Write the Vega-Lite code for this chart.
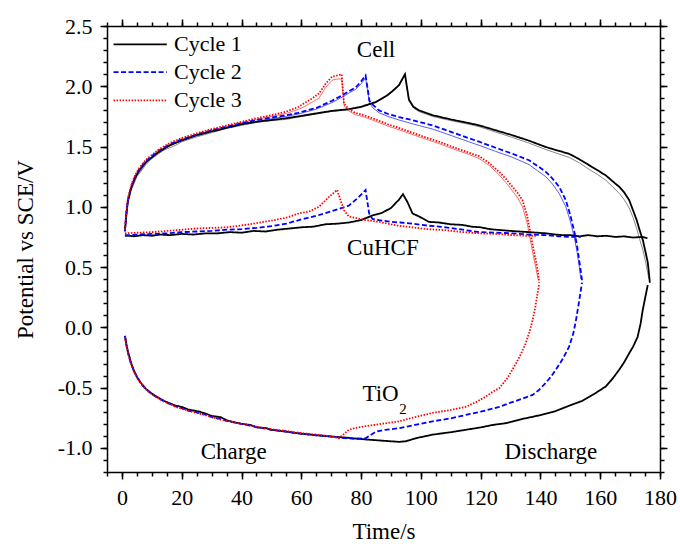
{
  "$schema": "https://vega.github.io/schema/vega-lite/v6.json",
  "width": 553,
  "height": 446,
  "autosize": {"type": "none"},
  "padding": {"left": 107, "top": 26, "right": 20, "bottom": 72},
  "background": "white",
  "config": {
    "view": {"stroke": null},
    "axis": {
      "domainColor": "#000", "domainWidth": 1.5, "tickColor": "#000", "tickWidth": 1.5,
      "labelFont": "Times New Roman", "labelFontSize": 22, "labelColor": "#000",
      "titleFont": "Times New Roman", "titleFontSize": 23, "titleFontWeight": "normal", "titleColor": "#000",
      "grid": false, "labelPadding": 8, "labelFlush": false, "labelOverlap": false
    }
  },
  "datasets": {
    "main": [
      {"c":"Cycle 1","s":"cell","t":1,"v":0.80},{"c":"Cycle 1","s":"cell","t":1.5,"v":0.95},{"c":"Cycle 1","s":"cell","t":2,"v":1.05},{"c":"Cycle 1","s":"cell","t":3,"v":1.15},{"c":"Cycle 1","s":"cell","t":4,"v":1.22},{"c":"Cycle 1","s":"cell","t":5,"v":1.27},{"c":"Cycle 1","s":"cell","t":6,"v":1.31},{"c":"Cycle 1","s":"cell","t":7,"v":1.34},{"c":"Cycle 1","s":"cell","t":8,"v":1.37},{"c":"Cycle 1","s":"cell","t":10,"v":1.41},{"c":"Cycle 1","s":"cell","t":12,"v":1.45},{"c":"Cycle 1","s":"cell","t":14,"v":1.48},{"c":"Cycle 1","s":"cell","t":16,"v":1.51},{"c":"Cycle 1","s":"cell","t":18,"v":1.53},{"c":"Cycle 1","s":"cell","t":20,"v":1.55},{"c":"Cycle 1","s":"cell","t":25,"v":1.595},{"c":"Cycle 1","s":"cell","t":30,"v":1.625},{"c":"Cycle 1","s":"cell","t":35,"v":1.655},{"c":"Cycle 1","s":"cell","t":40,"v":1.685},{"c":"Cycle 1","s":"cell","t":45,"v":1.705},{"c":"Cycle 1","s":"cell","t":50,"v":1.72},{"c":"Cycle 1","s":"cell","t":55,"v":1.735},{"c":"Cycle 1","s":"cell","t":59,"v":1.75},{"c":"Cycle 1","s":"cell","t":65,"v":1.775},{"c":"Cycle 1","s":"cell","t":70,"v":1.795},{"c":"Cycle 1","s":"cell","t":75.9,"v":1.81},{"c":"Cycle 1","s":"cell","t":80,"v":1.83},{"c":"Cycle 1","s":"cell","t":85,"v":1.87},{"c":"Cycle 1","s":"cell","t":87.1,"v":1.90},{"c":"Cycle 1","s":"cell","t":89,"v":1.93},{"c":"Cycle 1","s":"cell","t":90.5,"v":1.96},{"c":"Cycle 1","s":"cell","t":92.7,"v":2.01},{"c":"Cycle 1","s":"cell","t":94,"v":2.07},{"c":"Cycle 1","s":"cell","t":94.7,"v":2.10},{"c":"Cycle 1","s":"cell","t":95.3,"v":2.00},{"c":"Cycle 1","s":"cell","t":96,"v":1.89},{"c":"Cycle 1","s":"cell","t":97.5,"v":1.83},{"c":"Cycle 1","s":"cell","t":99.4,"v":1.80},{"c":"Cycle 1","s":"cell","t":103.9,"v":1.76},{"c":"Cycle 1","s":"cell","t":110,"v":1.725},{"c":"Cycle 1","s":"cell","t":115,"v":1.70},{"c":"Cycle 1","s":"cell","t":119.5,"v":1.676},{"c":"Cycle 1","s":"cell","t":125,"v":1.635},{"c":"Cycle 1","s":"cell","t":130.7,"v":1.593},{"c":"Cycle 1","s":"cell","t":136,"v":1.55},{"c":"Cycle 1","s":"cell","t":141.8,"v":1.496},{"c":"Cycle 1","s":"cell","t":146,"v":1.465},{"c":"Cycle 1","s":"cell","t":149.6,"v":1.44},{"c":"Cycle 1","s":"cell","t":153,"v":1.395},{"c":"Cycle 1","s":"cell","t":156.3,"v":1.345},{"c":"Cycle 1","s":"cell","t":159,"v":1.305},{"c":"Cycle 1","s":"cell","t":161.9,"v":1.26},{"c":"Cycle 1","s":"cell","t":164,"v":1.215},{"c":"Cycle 1","s":"cell","t":166.4,"v":1.165},{"c":"Cycle 1","s":"cell","t":168,"v":1.12},{"c":"Cycle 1","s":"cell","t":169.7,"v":1.055},{"c":"Cycle 1","s":"cell","t":171,"v":0.97},{"c":"Cycle 1","s":"cell","t":172.2,"v":0.89},{"c":"Cycle 1","s":"cell","t":173.2,"v":0.806},{"c":"Cycle 1","s":"cell","t":174.3,"v":0.72},{"c":"Cycle 1","s":"cell","t":175.2,"v":0.62},{"c":"Cycle 1","s":"cell","t":175.9,"v":0.54},{"c":"Cycle 1","s":"cell","t":176.3,"v":0.45},{"c":"Cycle 1","s":"cell","t":176.6,"v":0.37},

      {"c":"Cycle 2","s":"cell","t":1,"v":0.80},{"c":"Cycle 2","s":"cell","t":1.5,"v":0.96},{"c":"Cycle 2","s":"cell","t":2,"v":1.06},{"c":"Cycle 2","s":"cell","t":3,"v":1.16},{"c":"Cycle 2","s":"cell","t":4,"v":1.23},{"c":"Cycle 2","s":"cell","t":5,"v":1.28},{"c":"Cycle 2","s":"cell","t":6,"v":1.32},{"c":"Cycle 2","s":"cell","t":7,"v":1.35},{"c":"Cycle 2","s":"cell","t":8,"v":1.38},{"c":"Cycle 2","s":"cell","t":10,"v":1.42},{"c":"Cycle 2","s":"cell","t":12,"v":1.46},{"c":"Cycle 2","s":"cell","t":14,"v":1.49},{"c":"Cycle 2","s":"cell","t":16,"v":1.52},{"c":"Cycle 2","s":"cell","t":18,"v":1.54},{"c":"Cycle 2","s":"cell","t":20,"v":1.56},{"c":"Cycle 2","s":"cell","t":25,"v":1.60},{"c":"Cycle 2","s":"cell","t":30,"v":1.635},{"c":"Cycle 2","s":"cell","t":35,"v":1.665},{"c":"Cycle 2","s":"cell","t":40,"v":1.695},{"c":"Cycle 2","s":"cell","t":45,"v":1.72},{"c":"Cycle 2","s":"cell","t":50,"v":1.74},{"c":"Cycle 2","s":"cell","t":55,"v":1.76},{"c":"Cycle 2","s":"cell","t":59,"v":1.78},{"c":"Cycle 2","s":"cell","t":65,"v":1.82},{"c":"Cycle 2","s":"cell","t":70.3,"v":1.88},{"c":"Cycle 2","s":"cell","t":73.7,"v":1.925},{"c":"Cycle 2","s":"cell","t":76,"v":1.96},{"c":"Cycle 2","s":"cell","t":78.2,"v":1.99},{"c":"Cycle 2","s":"cell","t":80,"v":2.04},{"c":"Cycle 2","s":"cell","t":81.5,"v":2.09},{"c":"Cycle 2","s":"cell","t":82.2,"v":1.98},{"c":"Cycle 2","s":"cell","t":82.8,"v":1.88},{"c":"Cycle 2","s":"cell","t":84,"v":1.845},{"c":"Cycle 2","s":"cell","t":86,"v":1.80},{"c":"Cycle 2","s":"cell","t":89,"v":1.77},{"c":"Cycle 2","s":"cell","t":92.7,"v":1.745},{"c":"Cycle 2","s":"cell","t":97,"v":1.72},{"c":"Cycle 2","s":"cell","t":100,"v":1.70},{"c":"Cycle 2","s":"cell","t":103.9,"v":1.676},{"c":"Cycle 2","s":"cell","t":108,"v":1.64},{"c":"Cycle 2","s":"cell","t":112,"v":1.605},{"c":"Cycle 2","s":"cell","t":116,"v":1.57},{"c":"Cycle 2","s":"cell","t":119.5,"v":1.54},{"c":"Cycle 2","s":"cell","t":125,"v":1.49},{"c":"Cycle 2","s":"cell","t":130.7,"v":1.44},{"c":"Cycle 2","s":"cell","t":136.2,"v":1.386},{"c":"Cycle 2","s":"cell","t":139,"v":1.34},{"c":"Cycle 2","s":"cell","t":141.8,"v":1.29},{"c":"Cycle 2","s":"cell","t":144,"v":1.235},{"c":"Cycle 2","s":"cell","t":146.3,"v":1.165},{"c":"Cycle 2","s":"cell","t":148.5,"v":1.055},{"c":"Cycle 2","s":"cell","t":150,"v":0.93},{"c":"Cycle 2","s":"cell","t":151.3,"v":0.80},{"c":"Cycle 2","s":"cell","t":152.3,"v":0.67},{"c":"Cycle 2","s":"cell","t":153,"v":0.55},{"c":"Cycle 2","s":"cell","t":153.6,"v":0.45},{"c":"Cycle 2","s":"cell","t":154,"v":0.37},

      {"c":"Cycle 3","s":"cell","t":1,"v":0.81},{"c":"Cycle 3","s":"cell","t":1.5,"v":0.97},{"c":"Cycle 3","s":"cell","t":2,"v":1.07},{"c":"Cycle 3","s":"cell","t":3,"v":1.17},{"c":"Cycle 3","s":"cell","t":4,"v":1.24},{"c":"Cycle 3","s":"cell","t":5,"v":1.29},{"c":"Cycle 3","s":"cell","t":6,"v":1.33},{"c":"Cycle 3","s":"cell","t":7,"v":1.36},{"c":"Cycle 3","s":"cell","t":8,"v":1.39},{"c":"Cycle 3","s":"cell","t":10,"v":1.43},{"c":"Cycle 3","s":"cell","t":12,"v":1.47},{"c":"Cycle 3","s":"cell","t":14,"v":1.50},{"c":"Cycle 3","s":"cell","t":16,"v":1.53},{"c":"Cycle 3","s":"cell","t":18,"v":1.55},{"c":"Cycle 3","s":"cell","t":20,"v":1.57},{"c":"Cycle 3","s":"cell","t":25,"v":1.61},{"c":"Cycle 3","s":"cell","t":30,"v":1.645},{"c":"Cycle 3","s":"cell","t":35,"v":1.675},{"c":"Cycle 3","s":"cell","t":40,"v":1.705},{"c":"Cycle 3","s":"cell","t":45,"v":1.735},{"c":"Cycle 3","s":"cell","t":50,"v":1.76},{"c":"Cycle 3","s":"cell","t":55,"v":1.79},{"c":"Cycle 3","s":"cell","t":59.2,"v":1.83},{"c":"Cycle 3","s":"cell","t":61,"v":1.86},{"c":"Cycle 3","s":"cell","t":63.7,"v":1.90},{"c":"Cycle 3","s":"cell","t":65.9,"v":1.94},{"c":"Cycle 3","s":"cell","t":68.1,"v":2.02},{"c":"Cycle 3","s":"cell","t":70.3,"v":2.08},{"c":"Cycle 3","s":"cell","t":72,"v":2.09},{"c":"Cycle 3","s":"cell","t":73.5,"v":2.10},{"c":"Cycle 3","s":"cell","t":73.9,"v":1.97},{"c":"Cycle 3","s":"cell","t":74.3,"v":1.855},{"c":"Cycle 3","s":"cell","t":75.9,"v":1.81},{"c":"Cycle 3","s":"cell","t":78,"v":1.78},{"c":"Cycle 3","s":"cell","t":81,"v":1.76},{"c":"Cycle 3","s":"cell","t":83.8,"v":1.735},{"c":"Cycle 3","s":"cell","t":89,"v":1.685},{"c":"Cycle 3","s":"cell","t":94.9,"v":1.635},{"c":"Cycle 3","s":"cell","t":100,"v":1.59},{"c":"Cycle 3","s":"cell","t":106,"v":1.54},{"c":"Cycle 3","s":"cell","t":112,"v":1.485},{"c":"Cycle 3","s":"cell","t":116,"v":1.45},{"c":"Cycle 3","s":"cell","t":119.5,"v":1.42},{"c":"Cycle 3","s":"cell","t":123,"v":1.36},{"c":"Cycle 3","s":"cell","t":126.2,"v":1.29},{"c":"Cycle 3","s":"cell","t":128.5,"v":1.23},{"c":"Cycle 3","s":"cell","t":130.7,"v":1.165},{"c":"Cycle 3","s":"cell","t":132.5,"v":1.11},{"c":"Cycle 3","s":"cell","t":134,"v":1.055},{"c":"Cycle 3","s":"cell","t":135.5,"v":0.93},{"c":"Cycle 3","s":"cell","t":136.5,"v":0.80},{"c":"Cycle 3","s":"cell","t":137.5,"v":0.67},{"c":"Cycle 3","s":"cell","t":138.5,"v":0.55},{"c":"Cycle 3","s":"cell","t":139.2,"v":0.45},{"c":"Cycle 3","s":"cell","t":139.6,"v":0.37},

      {"c":"Cycle 1","s":"cu","t":1,"v":0.765},{"c":"Cycle 1","s":"cu","t":4,"v":0.755},{"c":"Cycle 1","s":"cu","t":7,"v":0.765},{"c":"Cycle 1","s":"cu","t":10,"v":0.76},{"c":"Cycle 1","s":"cu","t":13,"v":0.77},{"c":"Cycle 1","s":"cu","t":16,"v":0.765},{"c":"Cycle 1","s":"cu","t":20,"v":0.775},{"c":"Cycle 1","s":"cu","t":24,"v":0.77},{"c":"Cycle 1","s":"cu","t":28,"v":0.78},{"c":"Cycle 1","s":"cu","t":32,"v":0.78},{"c":"Cycle 1","s":"cu","t":36,"v":0.79},{"c":"Cycle 1","s":"cu","t":40,"v":0.785},{"c":"Cycle 1","s":"cu","t":44,"v":0.80},{"c":"Cycle 1","s":"cu","t":48,"v":0.795},{"c":"Cycle 1","s":"cu","t":52,"v":0.81},{"c":"Cycle 1","s":"cu","t":56,"v":0.82},{"c":"Cycle 1","s":"cu","t":60,"v":0.83},{"c":"Cycle 1","s":"cu","t":64,"v":0.835},{"c":"Cycle 1","s":"cu","t":68,"v":0.855},{"c":"Cycle 1","s":"cu","t":72,"v":0.86},{"c":"Cycle 1","s":"cu","t":76,"v":0.87},{"c":"Cycle 1","s":"cu","t":80,"v":0.89},{"c":"Cycle 1","s":"cu","t":84,"v":0.93},{"c":"Cycle 1","s":"cu","t":87,"v":0.95},{"c":"Cycle 1","s":"cu","t":90,"v":0.99},{"c":"Cycle 1","s":"cu","t":92.7,"v":1.06},{"c":"Cycle 1","s":"cu","t":94,"v":1.105},{"c":"Cycle 1","s":"cu","t":95.5,"v":1.04},{"c":"Cycle 1","s":"cu","t":97.2,"v":0.945},{"c":"Cycle 1","s":"cu","t":99.4,"v":0.92},{"c":"Cycle 1","s":"cu","t":102.7,"v":0.875},{"c":"Cycle 1","s":"cu","t":106,"v":0.87},{"c":"Cycle 1","s":"cu","t":110,"v":0.855},{"c":"Cycle 1","s":"cu","t":113.9,"v":0.85},{"c":"Cycle 1","s":"cu","t":117,"v":0.835},{"c":"Cycle 1","s":"cu","t":120,"v":0.83},{"c":"Cycle 1","s":"cu","t":123,"v":0.815},{"c":"Cycle 1","s":"cu","t":125.1,"v":0.81},{"c":"Cycle 1","s":"cu","t":130,"v":0.80},{"c":"Cycle 1","s":"cu","t":133,"v":0.795},{"c":"Cycle 1","s":"cu","t":136.2,"v":0.79},{"c":"Cycle 1","s":"cu","t":139,"v":0.785},{"c":"Cycle 1","s":"cu","t":142,"v":0.78},{"c":"Cycle 1","s":"cu","t":145,"v":0.77},{"c":"Cycle 1","s":"cu","t":147.4,"v":0.765},{"c":"Cycle 1","s":"cu","t":150,"v":0.765},{"c":"Cycle 1","s":"cu","t":153,"v":0.755},{"c":"Cycle 1","s":"cu","t":156,"v":0.765},{"c":"Cycle 1","s":"cu","t":159,"v":0.755},{"c":"Cycle 1","s":"cu","t":162,"v":0.76},{"c":"Cycle 1","s":"cu","t":165,"v":0.75},{"c":"Cycle 1","s":"cu","t":168,"v":0.755},{"c":"Cycle 1","s":"cu","t":171,"v":0.745},{"c":"Cycle 1","s":"cu","t":174,"v":0.75},{"c":"Cycle 1","s":"cu","t":175.8,"v":0.74},

      {"c":"Cycle 2","s":"cu","t":1,"v":0.76},{"c":"Cycle 2","s":"cu","t":5,"v":0.77},{"c":"Cycle 2","s":"cu","t":10,"v":0.775},{"c":"Cycle 2","s":"cu","t":15,"v":0.78},{"c":"Cycle 2","s":"cu","t":20,"v":0.79},{"c":"Cycle 2","s":"cu","t":25,"v":0.795},{"c":"Cycle 2","s":"cu","t":30,"v":0.80},{"c":"Cycle 2","s":"cu","t":35,"v":0.81},{"c":"Cycle 2","s":"cu","t":40,"v":0.815},{"c":"Cycle 2","s":"cu","t":45,"v":0.825},{"c":"Cycle 2","s":"cu","t":50,"v":0.84},{"c":"Cycle 2","s":"cu","t":55,"v":0.86},{"c":"Cycle 2","s":"cu","t":59.2,"v":0.89},{"c":"Cycle 2","s":"cu","t":65,"v":0.925},{"c":"Cycle 2","s":"cu","t":70.3,"v":0.965},{"c":"Cycle 2","s":"cu","t":75.9,"v":1.01},{"c":"Cycle 2","s":"cu","t":79.2,"v":1.08},{"c":"Cycle 2","s":"cu","t":81.5,"v":1.14},{"c":"Cycle 2","s":"cu","t":82.7,"v":0.945},{"c":"Cycle 2","s":"cu","t":83.8,"v":0.90},{"c":"Cycle 2","s":"cu","t":86,"v":0.89},{"c":"Cycle 2","s":"cu","t":90,"v":0.875},{"c":"Cycle 2","s":"cu","t":93,"v":0.87},{"c":"Cycle 2","s":"cu","t":97.2,"v":0.86},{"c":"Cycle 2","s":"cu","t":102,"v":0.845},{"c":"Cycle 2","s":"cu","t":108.3,"v":0.83},{"c":"Cycle 2","s":"cu","t":114,"v":0.81},{"c":"Cycle 2","s":"cu","t":119.5,"v":0.79},{"c":"Cycle 2","s":"cu","t":125,"v":0.785},{"c":"Cycle 2","s":"cu","t":130.7,"v":0.78},{"c":"Cycle 2","s":"cu","t":136,"v":0.77},{"c":"Cycle 2","s":"cu","t":141.8,"v":0.765},{"c":"Cycle 2","s":"cu","t":146,"v":0.755},{"c":"Cycle 2","s":"cu","t":150.7,"v":0.75},{"c":"Cycle 2","s":"cu","t":153.5,"v":0.75},

      {"c":"Cycle 3","s":"cu","t":1,"v":0.78},{"c":"Cycle 3","s":"cu","t":5,"v":0.785},{"c":"Cycle 3","s":"cu","t":10,"v":0.79},{"c":"Cycle 3","s":"cu","t":15,"v":0.80},{"c":"Cycle 3","s":"cu","t":20,"v":0.81},{"c":"Cycle 3","s":"cu","t":25,"v":0.82},{"c":"Cycle 3","s":"cu","t":30,"v":0.825},{"c":"Cycle 3","s":"cu","t":35,"v":0.83},{"c":"Cycle 3","s":"cu","t":40,"v":0.845},{"c":"Cycle 3","s":"cu","t":45,"v":0.865},{"c":"Cycle 3","s":"cu","t":50,"v":0.885},{"c":"Cycle 3","s":"cu","t":55,"v":0.91},{"c":"Cycle 3","s":"cu","t":59.2,"v":0.945},{"c":"Cycle 3","s":"cu","t":62.5,"v":0.96},{"c":"Cycle 3","s":"cu","t":65.9,"v":1.00},{"c":"Cycle 3","s":"cu","t":69.2,"v":1.08},{"c":"Cycle 3","s":"cu","t":72,"v":1.14},{"c":"Cycle 3","s":"cu","t":73.2,"v":1.05},{"c":"Cycle 3","s":"cu","t":74.3,"v":0.97},{"c":"Cycle 3","s":"cu","t":75.9,"v":0.92},{"c":"Cycle 3","s":"cu","t":81.5,"v":0.89},{"c":"Cycle 3","s":"cu","t":86,"v":0.875},{"c":"Cycle 3","s":"cu","t":92,"v":0.845},{"c":"Cycle 3","s":"cu","t":97.2,"v":0.83},{"c":"Cycle 3","s":"cu","t":102,"v":0.815},{"c":"Cycle 3","s":"cu","t":108.3,"v":0.806},{"c":"Cycle 3","s":"cu","t":114,"v":0.79},{"c":"Cycle 3","s":"cu","t":119.5,"v":0.78},{"c":"Cycle 3","s":"cu","t":125,"v":0.775},{"c":"Cycle 3","s":"cu","t":130.7,"v":0.765},{"c":"Cycle 3","s":"cu","t":135,"v":0.76},{"c":"Cycle 3","s":"cu","t":139,"v":0.76},

      {"c":"Cycle 1","s":"ti","t":1,"v":-0.07},{"c":"Cycle 1","s":"ti","t":1.5,"v":-0.14},{"c":"Cycle 1","s":"ti","t":2,"v":-0.2},{"c":"Cycle 1","s":"ti","t":3,"v":-0.29},{"c":"Cycle 1","s":"ti","t":4,"v":-0.36},{"c":"Cycle 1","s":"ti","t":5,"v":-0.41},{"c":"Cycle 1","s":"ti","t":6,"v":-0.45},{"c":"Cycle 1","s":"ti","t":7,"v":-0.48},{"c":"Cycle 1","s":"ti","t":8,"v":-0.51},{"c":"Cycle 1","s":"ti","t":10,"v":-0.55},{"c":"Cycle 1","s":"ti","t":12,"v":-0.58},{"c":"Cycle 1","s":"ti","t":14,"v":-0.61},{"c":"Cycle 1","s":"ti","t":16,"v":-0.63},{"c":"Cycle 1","s":"ti","t":18,"v":-0.65},{"c":"Cycle 1","s":"ti","t":20,"v":-0.66},{"c":"Cycle 1","s":"ti","t":22,"v":-0.68},{"c":"Cycle 1","s":"ti","t":24,"v":-0.69},{"c":"Cycle 1","s":"ti","t":26,"v":-0.70},{"c":"Cycle 1","s":"ti","t":28,"v":-0.715},{"c":"Cycle 1","s":"ti","t":30,"v":-0.735},{"c":"Cycle 1","s":"ti","t":33,"v":-0.745},{"c":"Cycle 1","s":"ti","t":35,"v":-0.77},{"c":"Cycle 1","s":"ti","t":38,"v":-0.79},{"c":"Cycle 1","s":"ti","t":40,"v":-0.80},{"c":"Cycle 1","s":"ti","t":43,"v":-0.81},{"c":"Cycle 1","s":"ti","t":45,"v":-0.83},{"c":"Cycle 1","s":"ti","t":48,"v":-0.835},{"c":"Cycle 1","s":"ti","t":50,"v":-0.85},{"c":"Cycle 1","s":"ti","t":55,"v":-0.865},{"c":"Cycle 1","s":"ti","t":59.2,"v":-0.88},{"c":"Cycle 1","s":"ti","t":65,"v":-0.895},{"c":"Cycle 1","s":"ti","t":70.3,"v":-0.906},{"c":"Cycle 1","s":"ti","t":75,"v":-0.915},{"c":"Cycle 1","s":"ti","t":81.5,"v":-0.93},{"c":"Cycle 1","s":"ti","t":87,"v":-0.94},{"c":"Cycle 1","s":"ti","t":92.7,"v":-0.95},{"c":"Cycle 1","s":"ti","t":95,"v":-0.945},{"c":"Cycle 1","s":"ti","t":98.3,"v":-0.92},{"c":"Cycle 1","s":"ti","t":103.9,"v":-0.89},{"c":"Cycle 1","s":"ti","t":110,"v":-0.87},{"c":"Cycle 1","s":"ti","t":115,"v":-0.85},{"c":"Cycle 1","s":"ti","t":120,"v":-0.83},{"c":"Cycle 1","s":"ti","t":124,"v":-0.81},{"c":"Cycle 1","s":"ti","t":128.4,"v":-0.795},{"c":"Cycle 1","s":"ti","t":134,"v":-0.76},{"c":"Cycle 1","s":"ti","t":139.6,"v":-0.73},{"c":"Cycle 1","s":"ti","t":145,"v":-0.695},{"c":"Cycle 1","s":"ti","t":150.7,"v":-0.64},{"c":"Cycle 1","s":"ti","t":154,"v":-0.61},{"c":"Cycle 1","s":"ti","t":157.5,"v":-0.56},{"c":"Cycle 1","s":"ti","t":161.9,"v":-0.49},{"c":"Cycle 1","s":"ti","t":164,"v":-0.43},{"c":"Cycle 1","s":"ti","t":166.4,"v":-0.35},{"c":"Cycle 1","s":"ti","t":168,"v":-0.29},{"c":"Cycle 1","s":"ti","t":169.7,"v":-0.215},{"c":"Cycle 1","s":"ti","t":171,"v":-0.16},{"c":"Cycle 1","s":"ti","t":172.5,"v":-0.08},{"c":"Cycle 1","s":"ti","t":173.5,"v":0.03},{"c":"Cycle 1","s":"ti","t":174.2,"v":0.14},{"c":"Cycle 1","s":"ti","t":175,"v":0.24},{"c":"Cycle 1","s":"ti","t":175.9,"v":0.35},

      {"c":"Cycle 2","s":"ti","t":1,"v":-0.07},{"c":"Cycle 2","s":"ti","t":1.5,"v":-0.15},{"c":"Cycle 2","s":"ti","t":2,"v":-0.21},{"c":"Cycle 2","s":"ti","t":3,"v":-0.30},{"c":"Cycle 2","s":"ti","t":4,"v":-0.36},{"c":"Cycle 2","s":"ti","t":5,"v":-0.41},{"c":"Cycle 2","s":"ti","t":6,"v":-0.45},{"c":"Cycle 2","s":"ti","t":7,"v":-0.485},{"c":"Cycle 2","s":"ti","t":8,"v":-0.51},{"c":"Cycle 2","s":"ti","t":10,"v":-0.555},{"c":"Cycle 2","s":"ti","t":12,"v":-0.585},{"c":"Cycle 2","s":"ti","t":14,"v":-0.61},{"c":"Cycle 2","s":"ti","t":16,"v":-0.635},{"c":"Cycle 2","s":"ti","t":18,"v":-0.655},{"c":"Cycle 2","s":"ti","t":20,"v":-0.67},{"c":"Cycle 2","s":"ti","t":22,"v":-0.69},{"c":"Cycle 2","s":"ti","t":25,"v":-0.705},{"c":"Cycle 2","s":"ti","t":28,"v":-0.725},{"c":"Cycle 2","s":"ti","t":30,"v":-0.745},{"c":"Cycle 2","s":"ti","t":33,"v":-0.76},{"c":"Cycle 2","s":"ti","t":35,"v":-0.775},{"c":"Cycle 2","s":"ti","t":38,"v":-0.79},{"c":"Cycle 2","s":"ti","t":40,"v":-0.80},{"c":"Cycle 2","s":"ti","t":45,"v":-0.825},{"c":"Cycle 2","s":"ti","t":50,"v":-0.85},{"c":"Cycle 2","s":"ti","t":55,"v":-0.865},{"c":"Cycle 2","s":"ti","t":59.2,"v":-0.88},{"c":"Cycle 2","s":"ti","t":65,"v":-0.895},{"c":"Cycle 2","s":"ti","t":70.3,"v":-0.906},{"c":"Cycle 2","s":"ti","t":72.6,"v":-0.915},{"c":"Cycle 2","s":"ti","t":78,"v":-0.925},{"c":"Cycle 2","s":"ti","t":81.5,"v":-0.92},{"c":"Cycle 2","s":"ti","t":84.9,"v":-0.865},{"c":"Cycle 2","s":"ti","t":88,"v":-0.85},{"c":"Cycle 2","s":"ti","t":92.7,"v":-0.837},{"c":"Cycle 2","s":"ti","t":98,"v":-0.81},{"c":"Cycle 2","s":"ti","t":103.9,"v":-0.78},{"c":"Cycle 2","s":"ti","t":110,"v":-0.755},{"c":"Cycle 2","s":"ti","t":115,"v":-0.727},{"c":"Cycle 2","s":"ti","t":120,"v":-0.70},{"c":"Cycle 2","s":"ti","t":126.2,"v":-0.66},{"c":"Cycle 2","s":"ti","t":130,"v":-0.625},{"c":"Cycle 2","s":"ti","t":133,"v":-0.60},{"c":"Cycle 2","s":"ti","t":137.4,"v":-0.56},{"c":"Cycle 2","s":"ti","t":139.5,"v":-0.52},{"c":"Cycle 2","s":"ti","t":141.8,"v":-0.46},{"c":"Cycle 2","s":"ti","t":143.5,"v":-0.41},{"c":"Cycle 2","s":"ti","t":145.2,"v":-0.35},{"c":"Cycle 2","s":"ti","t":147.5,"v":-0.26},{"c":"Cycle 2","s":"ti","t":149.6,"v":-0.16},{"c":"Cycle 2","s":"ti","t":151,"v":-0.05},{"c":"Cycle 2","s":"ti","t":151.9,"v":0.06},{"c":"Cycle 2","s":"ti","t":153,"v":0.226},{"c":"Cycle 2","s":"ti","t":153.9,"v":0.37},

      {"c":"Cycle 3","s":"ti","t":1,"v":-0.08},{"c":"Cycle 3","s":"ti","t":1.5,"v":-0.15},{"c":"Cycle 3","s":"ti","t":2,"v":-0.21},{"c":"Cycle 3","s":"ti","t":3,"v":-0.30},{"c":"Cycle 3","s":"ti","t":4,"v":-0.365},{"c":"Cycle 3","s":"ti","t":5,"v":-0.415},{"c":"Cycle 3","s":"ti","t":6,"v":-0.455},{"c":"Cycle 3","s":"ti","t":7,"v":-0.485},{"c":"Cycle 3","s":"ti","t":8,"v":-0.515},{"c":"Cycle 3","s":"ti","t":10,"v":-0.555},{"c":"Cycle 3","s":"ti","t":12,"v":-0.585},{"c":"Cycle 3","s":"ti","t":14,"v":-0.615},{"c":"Cycle 3","s":"ti","t":16,"v":-0.635},{"c":"Cycle 3","s":"ti","t":18,"v":-0.66},{"c":"Cycle 3","s":"ti","t":20,"v":-0.675},{"c":"Cycle 3","s":"ti","t":22,"v":-0.69},{"c":"Cycle 3","s":"ti","t":25,"v":-0.71},{"c":"Cycle 3","s":"ti","t":28,"v":-0.73},{"c":"Cycle 3","s":"ti","t":30,"v":-0.745},{"c":"Cycle 3","s":"ti","t":33,"v":-0.765},{"c":"Cycle 3","s":"ti","t":35,"v":-0.775},{"c":"Cycle 3","s":"ti","t":38,"v":-0.79},{"c":"Cycle 3","s":"ti","t":40,"v":-0.80},{"c":"Cycle 3","s":"ti","t":45,"v":-0.825},{"c":"Cycle 3","s":"ti","t":50,"v":-0.845},{"c":"Cycle 3","s":"ti","t":55,"v":-0.86},{"c":"Cycle 3","s":"ti","t":59.2,"v":-0.875},{"c":"Cycle 3","s":"ti","t":65,"v":-0.89},{"c":"Cycle 3","s":"ti","t":70.3,"v":-0.905},{"c":"Cycle 3","s":"ti","t":72.6,"v":-0.92},{"c":"Cycle 3","s":"ti","t":74.5,"v":-0.88},{"c":"Cycle 3","s":"ti","t":75.9,"v":-0.85},{"c":"Cycle 3","s":"ti","t":78,"v":-0.835},{"c":"Cycle 3","s":"ti","t":81.5,"v":-0.82},{"c":"Cycle 3","s":"ti","t":87,"v":-0.80},{"c":"Cycle 3","s":"ti","t":92.7,"v":-0.78},{"c":"Cycle 3","s":"ti","t":98,"v":-0.745},{"c":"Cycle 3","s":"ti","t":103.9,"v":-0.71},{"c":"Cycle 3","s":"ti","t":110,"v":-0.685},{"c":"Cycle 3","s":"ti","t":115,"v":-0.66},{"c":"Cycle 3","s":"ti","t":118.5,"v":-0.62},{"c":"Cycle 3","s":"ti","t":121.7,"v":-0.575},{"c":"Cycle 3","s":"ti","t":124,"v":-0.535},{"c":"Cycle 3","s":"ti","t":126.2,"v":-0.505},{"c":"Cycle 3","s":"ti","t":129,"v":-0.42},{"c":"Cycle 3","s":"ti","t":131.8,"v":-0.30},{"c":"Cycle 3","s":"ti","t":133.5,"v":-0.22},{"c":"Cycle 3","s":"ti","t":135.1,"v":-0.13},{"c":"Cycle 3","s":"ti","t":136.3,"v":-0.04},{"c":"Cycle 3","s":"ti","t":137.4,"v":0.06},{"c":"Cycle 3","s":"ti","t":138.3,"v":0.17},{"c":"Cycle 3","s":"ti","t":139,"v":0.28},{"c":"Cycle 3","s":"ti","t":139.6,"v":0.36},

      {"c":"Cycle 1","s":"key","t":-2.8,"v":2.347},{"c":"Cycle 1","s":"key","t":15.0,"v":2.347},
      {"c":"Cycle 2","s":"key","t":-2.8,"v":2.118},{"c":"Cycle 2","s":"key","t":15.0,"v":2.118},
      {"c":"Cycle 3","s":"key","t":-2.8,"v":1.883},{"c":"Cycle 3","s":"key","t":15.0,"v":1.883}
    ],
    "thin": [
      {"c":"Cycle 1","t":1,"v":0.79},{"c":"Cycle 1","t":2,"v":1.03},{"c":"Cycle 1","t":3,"v":1.13},{"c":"Cycle 1","t":5,"v":1.25},{"c":"Cycle 1","t":8,"v":1.35},{"c":"Cycle 1","t":10,"v":1.40},{"c":"Cycle 1","t":14,"v":1.47},{"c":"Cycle 1","t":18,"v":1.51},{"c":"Cycle 1","t":20,"v":1.54},{"c":"Cycle 1","t":25,"v":1.58},{"c":"Cycle 1","t":30,"v":1.615},{"c":"Cycle 1","t":35,"v":1.65},{"c":"Cycle 1","t":40,"v":1.675},{"c":"Cycle 1","t":45,"v":1.70},{"c":"Cycle 1","t":50,"v":1.715},{"c":"Cycle 1","t":55,"v":1.725},{"c":"Cycle 1","t":59,"v":1.745},{"c":"Cycle 1","t":65,"v":1.77},{"c":"Cycle 1","t":70,"v":1.79},{"c":"Cycle 1","t":75.9,"v":1.805},{"c":"Cycle 1","t":80,"v":1.825},{"c":"Cycle 1","t":85,"v":1.865},{"c":"Cycle 1","t":87.1,"v":1.895},{"c":"Cycle 1","t":89,"v":1.925},{"c":"Cycle 1","t":90.5,"v":1.955},{"c":"Cycle 1","t":92.7,"v":2.005},{"c":"Cycle 1","t":94,"v":2.06},{"c":"Cycle 1","t":94.7,"v":2.09},{"c":"Cycle 1","t":95.3,"v":1.99},{"c":"Cycle 1","t":96,"v":1.88},{"c":"Cycle 1","t":97.5,"v":1.82},{"c":"Cycle 1","t":99.4,"v":1.79},{"c":"Cycle 1","t":103.9,"v":1.75},{"c":"Cycle 1","t":110,"v":1.715},{"c":"Cycle 1","t":115,"v":1.69},{"c":"Cycle 1","t":119.5,"v":1.665},{"c":"Cycle 1","t":125,"v":1.62},{"c":"Cycle 1","t":130.7,"v":1.575},{"c":"Cycle 1","t":136,"v":1.53},{"c":"Cycle 1","t":141.8,"v":1.475},{"c":"Cycle 1","t":146,"v":1.44},{"c":"Cycle 1","t":149.6,"v":1.41},{"c":"Cycle 1","t":153,"v":1.365},{"c":"Cycle 1","t":156.3,"v":1.31},{"c":"Cycle 1","t":159,"v":1.27},{"c":"Cycle 1","t":161.9,"v":1.22},{"c":"Cycle 1","t":164,"v":1.17},{"c":"Cycle 1","t":166.4,"v":1.11},{"c":"Cycle 1","t":168,"v":1.06},{"c":"Cycle 1","t":169.7,"v":0.99},{"c":"Cycle 1","t":171,"v":0.91},{"c":"Cycle 1","t":172.2,"v":0.82},{"c":"Cycle 1","t":173.2,"v":0.73},{"c":"Cycle 1","t":174.3,"v":0.64},{"c":"Cycle 1","t":175.2,"v":0.54},{"c":"Cycle 1","t":175.9,"v":0.45},{"c":"Cycle 1","t":176.3,"v":0.40},

      {"c":"Cycle 2","t":1,"v":0.79},{"c":"Cycle 2","t":2,"v":1.04},{"c":"Cycle 2","t":3,"v":1.14},{"c":"Cycle 2","t":5,"v":1.26},{"c":"Cycle 2","t":8,"v":1.36},{"c":"Cycle 2","t":10,"v":1.41},{"c":"Cycle 2","t":14,"v":1.48},{"c":"Cycle 2","t":18,"v":1.53},{"c":"Cycle 2","t":20,"v":1.55},{"c":"Cycle 2","t":25,"v":1.59},{"c":"Cycle 2","t":30,"v":1.625},{"c":"Cycle 2","t":35,"v":1.655},{"c":"Cycle 2","t":40,"v":1.685},{"c":"Cycle 2","t":45,"v":1.71},{"c":"Cycle 2","t":50,"v":1.73},{"c":"Cycle 2","t":55,"v":1.75},{"c":"Cycle 2","t":59,"v":1.77},{"c":"Cycle 2","t":65,"v":1.81},{"c":"Cycle 2","t":70.3,"v":1.865},{"c":"Cycle 2","t":73.7,"v":1.91},{"c":"Cycle 2","t":76,"v":1.945},{"c":"Cycle 2","t":78.2,"v":1.975},{"c":"Cycle 2","t":80,"v":2.02},{"c":"Cycle 2","t":81.5,"v":2.07},{"c":"Cycle 2","t":82.2,"v":1.96},{"c":"Cycle 2","t":82.8,"v":1.86},{"c":"Cycle 2","t":84,"v":1.82},{"c":"Cycle 2","t":86,"v":1.78},{"c":"Cycle 2","t":89,"v":1.75},{"c":"Cycle 2","t":92.7,"v":1.72},{"c":"Cycle 2","t":97,"v":1.69},{"c":"Cycle 2","t":100,"v":1.67},{"c":"Cycle 2","t":103.9,"v":1.645},{"c":"Cycle 2","t":108,"v":1.61},{"c":"Cycle 2","t":112,"v":1.575},{"c":"Cycle 2","t":116,"v":1.54},{"c":"Cycle 2","t":119.5,"v":1.51},{"c":"Cycle 2","t":125,"v":1.46},{"c":"Cycle 2","t":130.7,"v":1.41},{"c":"Cycle 2","t":136.2,"v":1.35},{"c":"Cycle 2","t":139,"v":1.30},{"c":"Cycle 2","t":141.8,"v":1.25},{"c":"Cycle 2","t":144,"v":1.19},{"c":"Cycle 2","t":146.3,"v":1.11},{"c":"Cycle 2","t":148.5,"v":1.00},{"c":"Cycle 2","t":150,"v":0.88},{"c":"Cycle 2","t":151.3,"v":0.75},{"c":"Cycle 2","t":152.3,"v":0.62},{"c":"Cycle 2","t":153,"v":0.50},{"c":"Cycle 2","t":153.5,"v":0.40},

      {"c":"Cycle 3","t":1,"v":0.80},{"c":"Cycle 3","t":2,"v":1.05},{"c":"Cycle 3","t":3,"v":1.15},{"c":"Cycle 3","t":5,"v":1.27},{"c":"Cycle 3","t":8,"v":1.37},{"c":"Cycle 3","t":10,"v":1.42},{"c":"Cycle 3","t":14,"v":1.49},{"c":"Cycle 3","t":18,"v":1.54},{"c":"Cycle 3","t":20,"v":1.56},{"c":"Cycle 3","t":25,"v":1.60},{"c":"Cycle 3","t":30,"v":1.635},{"c":"Cycle 3","t":35,"v":1.665},{"c":"Cycle 3","t":40,"v":1.695},{"c":"Cycle 3","t":45,"v":1.725},{"c":"Cycle 3","t":50,"v":1.75},{"c":"Cycle 3","t":55,"v":1.775},{"c":"Cycle 3","t":59.2,"v":1.81},{"c":"Cycle 3","t":61,"v":1.83},{"c":"Cycle 3","t":63.7,"v":1.87},{"c":"Cycle 3","t":65.9,"v":1.90},{"c":"Cycle 3","t":68.1,"v":1.99},{"c":"Cycle 3","t":70.3,"v":2.05},{"c":"Cycle 3","t":72,"v":2.06},{"c":"Cycle 3","t":73.5,"v":2.06},{"c":"Cycle 3","t":73.9,"v":1.95},{"c":"Cycle 3","t":74.3,"v":1.84},{"c":"Cycle 3","t":75.9,"v":1.795},{"c":"Cycle 3","t":78,"v":1.765},{"c":"Cycle 3","t":81,"v":1.745},{"c":"Cycle 3","t":83.8,"v":1.72},{"c":"Cycle 3","t":89,"v":1.67},{"c":"Cycle 3","t":94.9,"v":1.62},{"c":"Cycle 3","t":100,"v":1.575},{"c":"Cycle 3","t":106,"v":1.525},{"c":"Cycle 3","t":112,"v":1.47},{"c":"Cycle 3","t":116,"v":1.435},{"c":"Cycle 3","t":119.5,"v":1.40},{"c":"Cycle 3","t":123,"v":1.34},{"c":"Cycle 3","t":126.2,"v":1.265},{"c":"Cycle 3","t":128.5,"v":1.20},{"c":"Cycle 3","t":130.7,"v":1.13},{"c":"Cycle 3","t":132.5,"v":1.07},{"c":"Cycle 3","t":134,"v":1.00},{"c":"Cycle 3","t":135.5,"v":0.87},{"c":"Cycle 3","t":136.5,"v":0.74},{"c":"Cycle 3","t":137.5,"v":0.61},{"c":"Cycle 3","t":138.5,"v":0.49},{"c":"Cycle 3","t":139.2,"v":0.40}
    ],
    "notes": [
      {"label":"Cell","t":85,"v":2.30},
      {"label":"CuHCF","t":87.3,"v":0.657},
      {"label":"TiO","t":86.5,"v":-0.553},
      {"label":"Charge","t":37.4,"v":-1.035},
      {"label":"Discharge","t":143.5,"v":-1.03}
    ],
    "keys": [
      {"label":"Cycle 1","t":17.4,"v":2.347},
      {"label":"Cycle 2","t":17.4,"v":2.118},
      {"label":"Cycle 3","t":17.4,"v":1.883}
    ],
    "sub": [
      {"label":"2","t":94.0,"v":-0.677}
    ]
  },
  "resolve": {"axis": {"x": "independent", "y": "independent"}},
  "layer": [
    {
      "data": {"name": "thin"},
      "mark": {"type": "line", "strokeWidth": 0.9, "interpolate": "linear"},
      "encoding": {
        "x": {"field": "t", "type": "quantitative", "scale": {"domain": [-5, 180], "nice": false, "zero": false},
              "axis": {"orient": "bottom", "values": [-5,0,5,10,15,20,25,30,35,40,45,50,55,60,65,70,75,80,85,90,95,100,105,110,115,120,125,130,135,140,145,150,155,160,165,170,175,180], "labels": false, "domain": false, "tickSize": 4, "title": null}},
        "y": {"field": "v", "type": "quantitative", "scale": {"domain": [-1.2, 2.5], "nice": false, "zero": false},
              "axis": {"orient": "left", "values": [-1.2,-1.1,-1,-0.9,-0.8,-0.7,-0.6,-0.5,-0.4,-0.3,-0.2,-0.1,0,0.1,0.2,0.3,0.4,0.5,0.6,0.7,0.8,0.9,1,1.1,1.2,1.3,1.4,1.5,1.6,1.7,1.8,1.9,2,2.1,2.2,2.3,2.4,2.5], "labels": false, "domain": false, "tickSize": 4, "title": null}},
        "stroke": {"field": "c", "type": "nominal", "scale": {"domain": ["Cycle 1","Cycle 2","Cycle 3"], "range": ["#7a7a7a","#4a4aff","#ff5a5a"]}, "legend": null}
      }
    },
    {
      "data": {"name": "main"},
      "mark": {"type": "line", "strokeWidth": 1.8, "interpolate": "linear"},
      "encoding": {
        "x": {"field": "t", "type": "quantitative", "scale": {"domain": [-5, 180], "nice": false, "zero": false},
              "axis": {"orient": "bottom", "values": [0,20,40,60,80,100,120,140,160,180], "tickSize": 7, "title": "Time/s", "titlePadding": 12,
                       "labelFont": "Times New Roman", "titleFont": "Times New Roman"}},
        "y": {"field": "v", "type": "quantitative", "scale": {"domain": [-1.2, 2.5], "nice": false, "zero": false},
              "axis": {"orient": "left", "values": [-1,-0.5,0,0.5,1,1.5,2,2.5], "tickSize": 7, "title": "Potential vs SCE/V", "titlePadding": 20,
                       "labelFont": "Times New Roman", "titleFont": "Times New Roman",
                       "labelExpr": "(datum.value < 0 ? '-' : '') + format(abs(datum.value), '.1f')"}},
        "color": {"field": "c", "type": "nominal", "scale": {"domain": ["Cycle 1","Cycle 2","Cycle 3"], "range": ["#000000","#0000ff","#ff0000"]}, "legend": null},
        "strokeDash": {"field": "c", "type": "nominal", "scale": {"domain": ["Cycle 1","Cycle 2","Cycle 3"], "range": [[1,0],[5,2.5],[1.5,1.5]]}, "legend": null},
        "detail": {"field": "s", "type": "nominal"}
      }
    },
    {
      "data": {"name": "notes"},
      "mark": {"type": "text", "font": "Liberation Serif", "fontSize": 23, "color": "#000", "align": "center", "baseline": "middle"},
      "encoding": {
        "x": {"field": "t", "type": "quantitative", "scale": {"domain": [-5, 180], "nice": false, "zero": false},
              "axis": {"orient": "top", "values": [0,20,40,60,80,100,120,140,160,180], "labels": false, "tickSize": 7, "title": null}},
        "y": {"field": "v", "type": "quantitative", "scale": {"domain": [-1.2, 2.5], "nice": false, "zero": false},
              "axis": {"orient": "right", "values": [-1,-0.5,0,0.5,1,1.5,2,2.5], "labels": false, "tickSize": 7, "title": null}},
        "text": {"field": "label"}
      }
    },
    {
      "data": {"name": "sub"},
      "mark": {"type": "text", "font": "Liberation Serif", "fontSize": 15, "color": "#000", "align": "center", "baseline": "middle"},
      "encoding": {
        "x": {"field": "t", "type": "quantitative", "scale": {"domain": [-5, 180], "nice": false, "zero": false},
              "axis": {"orient": "top", "values": [-5,0,5,10,15,20,25,30,35,40,45,50,55,60,65,70,75,80,85,90,95,100,105,110,115,120,125,130,135,140,145,150,155,160,165,170,175,180], "labels": false, "domain": false, "tickSize": 4, "title": null}},
        "y": {"field": "v", "type": "quantitative", "scale": {"domain": [-1.2, 2.5], "nice": false, "zero": false},
              "axis": {"orient": "right", "values": [-1.2,-1.1,-1,-0.9,-0.8,-0.7,-0.6,-0.5,-0.4,-0.3,-0.2,-0.1,0,0.1,0.2,0.3,0.4,0.5,0.6,0.7,0.8,0.9,1,1.1,1.2,1.3,1.4,1.5,1.6,1.7,1.8,1.9,2,2.1,2.2,2.3,2.4,2.5], "labels": false, "domain": false, "tickSize": 4, "title": null}},
        "text": {"field": "label"}
      }
    },
    {
      "data": {"name": "keys"},
      "mark": {"type": "text", "font": "Liberation Serif", "fontSize": 22, "color": "#000", "align": "left", "baseline": "middle"},
      "encoding": {
        "x": {"field": "t", "type": "quantitative", "scale": {"domain": [-5, 180], "nice": false, "zero": false}, "axis": null},
        "y": {"field": "v", "type": "quantitative", "scale": {"domain": [-1.2, 2.5], "nice": false, "zero": false}, "axis": null},
        "text": {"field": "label"}
      }
    }
  ]
}
